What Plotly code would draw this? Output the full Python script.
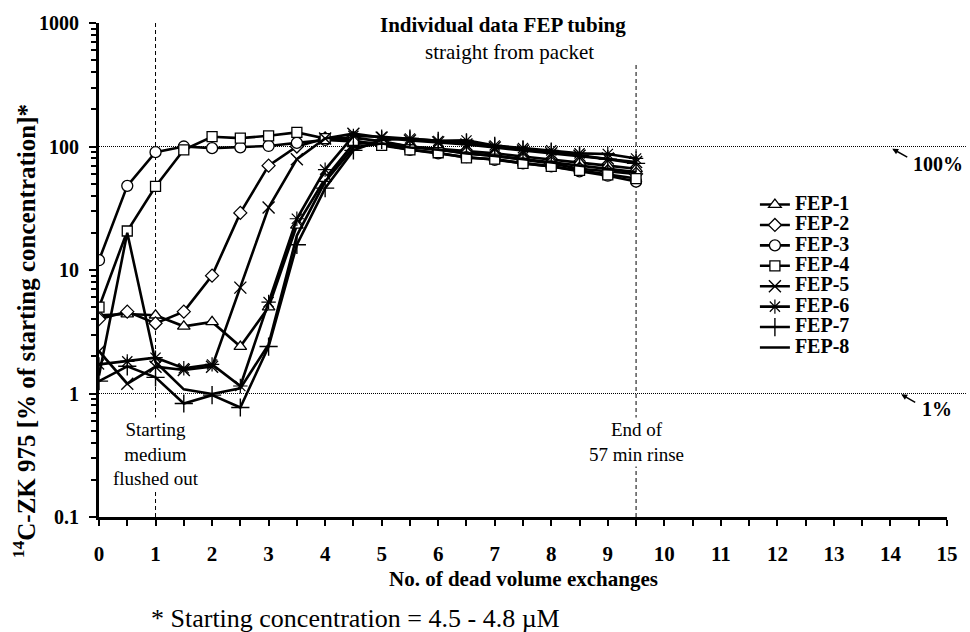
import plotly.graph_objects as go

# ---------------- data ----------------
exchanges = [0, 0.5, 1, 1.5, 2, 2.5, 3, 3.5, 4, 4.5, 5, 5.5, 6, 6.5, 7, 7.5, 8, 8.5, 9, 9.5]

fep1 = [4.3, 4.4, 4.3, 3.5, 3.8, 2.4, 5.0, 23, 55, 105, 108, 100, 96, 92, 88, 83, 78, 74, 70, 66]
fep2 = [4.0, 4.6, 3.7, 4.6, 9.0, 29, 70, 100, 116, 118, 110, 100, 95, 88, 84, 78, 73, 66, 63, 60]
fep3 = [12, 48, 90, 100, 97, 98.5, 101, 107, 113, 110, 104, 94, 88, 82, 78, 73, 69, 63, 58, 52]
fep4 = [5.0, 20.7, 47.5, 94, 120, 117, 122, 130, 116, 112, 102, 94, 89, 81, 79, 73, 69, 64, 59, 55]
fep5 = [2.2, 1.2, 1.65, 1.55, 1.65, 7.2, 32, 79, 116, 127, 118, 112, 108, 104, 98, 93, 88, 84, 80, 75]
fep6 = [1.72, 1.82, 1.95, 1.6, 1.72, 1.15, 5.5, 26, 65, 122, 120, 116, 111, 112, 102, 97, 93, 88, 87, 80]
fep7 = [1.26, 1.66, 1.35, 0.83, 0.97, 0.77, 2.4, 16, 46, 93, 113, 116, 111, 107, 101, 95, 91, 85, 79, 73]
fep8 = [1.4, 20, 1.8, 1.08, 0.99, 1.1, 2.5, 19, 52, 98, 106, 98, 94, 88, 84, 79, 75, 70, 66, 62]

series_names = ["FEP-1", "FEP-2", "FEP-3", "FEP-4", "FEP-5", "FEP-6", "FEP-7", "FEP-8"]
series_values = [fep1, fep2, fep3, fep4, fep5, fep6, fep7, fep8]

y_tick_vals = [0.1, 1, 10, 100, 1000]
y_tick_text = ["0.1", "1", "10", "100", "1000"]
y_minor_vals = [k * 10 ** e for e in (-1, 0, 1, 2) for k in range(2, 10)]

# ---------------- styles ----------------
FONT = "Liberation Serif"
marker_styles = [
    dict(symbol="triangle-up", size=11, color="white", line=dict(color="black", width=1.3)),
    dict(symbol="diamond", size=10, color="white", line=dict(color="black", width=1.3)),
    dict(symbol="circle", size=11, color="white", line=dict(color="black", width=1.3)),
    dict(symbol="square", size=10, color="white", line=dict(color="black", width=1.3)),
    dict(symbol="x-thin", size=12, color="black", line=dict(color="black", width=1.4)),
    dict(symbol="asterisk", size=12, color="black", line=dict(color="black", width=1.2)),
    dict(symbol="cross-thin", size=13, color="black", line=dict(color="black", width=1.4)),
    None,
]

L, R, T, B = 99, 951, 18, 517


def px(x):
    return (x - L) / (R - L)


def py(y):
    return (B - y) / (B - T)


fig = go.Figure()
for name, vals, mk in zip(series_names, series_values, marker_styles):
    kw = dict(x=exchanges, y=vals,
              name="<b><span style='font-size:20px'>%s</span></b>" % name,
              line=dict(color="black", width=2.6))
    if mk is None:
        kw["mode"] = "lines"
    else:
        kw["mode"] = "lines+markers"
        kw["marker"] = mk
    fig.add_trace(go.Scatter(**kw))

shapes = [
    dict(type="line", xref="paper", yref="y", x0=0, x1=px(970), y0=100, y1=100,
         line=dict(color="black", width=1, dash="1px,1px"), layer="below"),
    dict(type="line", xref="paper", yref="y", x0=0, x1=px(970), y0=1, y1=1,
         line=dict(color="black", width=1, dash="1px,1px"), layer="below"),
    dict(type="line", xref="x", yref="y", x0=1, x1=1, y0=0.1, y1=1000,
         line=dict(color="black", width=1, dash="4px,3px"), layer="below"),
    dict(type="line", xref="x", yref="y", x0=9.5, x1=9.5, y0=0.1, y1=464,
         line=dict(color="black", width=1, dash="4px,3px"), layer="below"),
]


def label(x, y, text, size, xref="paper", **kw):
    d = dict(xref=xref, yref="paper", x=x, y=y, text=text, showarrow=False,
             xanchor=kw.pop("xanchor", "center"), yanchor="middle",
             font=dict(family=FONT, size=size, color="black"))
    d.update(kw)
    return d


annotations = [
    label(px(505), py(20), "<b>Individual data FEP tubing</b>", 21),
    label(px(511), py(47), "straight from packet", 21),
    label(px(24), py(329), "<b><sup>14</sup>C-ZK 975 [% of starting concentration]*</b>", 25, textangle=-90),
    label(px(525), py(580), "<b>No. of dead volume exchanges</b>", 21),
    label(px(357), py(620), "* Starting concentration = 4.5 - 4.8 µM", 26),
    label(1, py(453), "Starting<br>medium<br>flushed out", 19, xref="x", bgcolor="white"),
    label(9.5, py(441), "End of<br>57 min rinse", 19, xref="x", bgcolor="white"),
    # 100% marker
    dict(xref="paper", yref="paper", x=px(896), y=py(145), ax=18, ay=10, text=" ",
         showarrow=True, arrowhead=2, arrowsize=0.8, arrowwidth=1.5, arrowcolor="black"),
    label(px(915), py(160), "<b>100%</b>", 20, xanchor="left"),
    # 1% marker
    dict(xref="paper", yref="paper", x=px(905), y=py(393), ax=17, ay=10, text=" ",
         showarrow=True, arrowhead=2, arrowsize=0.8, arrowwidth=1.5, arrowcolor="black"),
    label(px(924), py(408), "<b>1%</b>", 20, xanchor="left"),
]

fig.update_layout(
    width=970, height=632,
    margin=dict(l=L, r=970 - R, t=T, b=632 - B, pad=0),
    paper_bgcolor="white", plot_bgcolor="white",
    font=dict(family=FONT, color="black"),
    showlegend=True,
    legend=dict(x=px(758), y=py(186), xanchor="left", yanchor="top",
                font=dict(family=FONT, size=13.4, color="black"),
                bgcolor="rgba(0,0,0,0)", borderwidth=0, tracegroupgap=0),
    shapes=shapes,
    annotations=annotations,
)

fig.update_xaxes(
    range=[0, 15], tickmode="linear", tick0=0, dtick=1,
    ticks="outside", ticklen=6, tickwidth=2, tickcolor="black",
    minor=dict(dtick=0.5, ticks="outside", ticklen=6, tickwidth=2, tickcolor="black", showgrid=False),
    showline=True, linewidth=3, linecolor="black", showgrid=False, zeroline=False,
    tickfont=dict(family=FONT, size=21, color="black", weight="bold"),
    ticklabelstandoff=10,
)
fig.update_yaxes(
    type="log", range=[-1, 3], tickmode="array", tickvals=y_tick_vals, ticktext=y_tick_text,
    ticks="outside", ticklen=7, tickwidth=2, tickcolor="black",
    minor=dict(tickmode="array", tickvals=y_minor_vals, ticks="outside", ticklen=5,
               tickwidth=1.5, tickcolor="black", showgrid=False),
    showline=True, linewidth=3, linecolor="black", showgrid=False, zeroline=False,
    tickfont=dict(family=FONT, size=20, color="black", weight="bold"),
    ticklabelstandoff=6,
)

fig.write_html("out.html")
